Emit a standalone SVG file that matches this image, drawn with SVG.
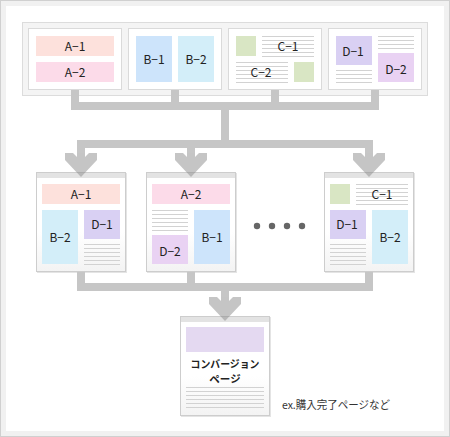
<svg xmlns="http://www.w3.org/2000/svg" width="450" height="437" viewBox="0 0 450 437">
<defs>
<linearGradient id="pg" x1="0" y1="0" x2="0" y2="1">
<stop offset="0" stop-color="#ffffff"/>
<stop offset="0.6" stop-color="#ffffff"/>
<stop offset="1" stop-color="#f3f3f3"/>
</linearGradient>
<style>
.lbl{font-family:"Noto Sans CJK JP","Noto Sans",sans-serif;font-size:12px;fill:#222;text-anchor:middle}
.ln{stroke:#d2d2d2;stroke-width:1;fill:none}
.tcard{fill:#fff;stroke:#dadada;stroke-width:1}
.shadow{fill:#e4e4e4}
.page{fill:url(#pg);stroke:#cdcdcd;stroke-width:1}
.hdr{fill:#e3e3e3}
.bar{fill:#c6c6c6}
.head{fill:#8c8c8c;fill-opacity:0.5}
.cv{font-family:"Noto Sans CJK JP",sans-serif;font-size:10.5px;font-weight:bold;fill:#222;text-anchor:middle}
.cA1{fill:#fde1dc}.cA2{fill:#fcdbe9}.cB1{fill:#cde4fb}.cB2{fill:#d3eef9}
.cC{fill:#d9e6c4}.cD1{fill:#d9d0f3}.cD2{fill:#e9d2f3}.cV{fill:#e4d9f1}
</style>
</defs>
<rect x="0.5" y="0.5" width="449" height="436" fill="#f1f1f1" stroke="#d0d0d0"/>
<rect x="6" y="6" width="438" height="425" fill="#ffffff"/>

<g id="sources">
<rect x="22.5" y="22.5" width="405" height="73" fill="#f4f4f4" stroke="#dcdcdc"/>
</g>

<g id="top-card-A">
<rect class="tcard" x="28.5" y="28.5" width="93" height="61"/>
<rect class="cA1" x="36" y="36" width="78" height="20"/>
<rect class="cA2" x="36" y="62" width="78" height="20"/>
<text class="lbl" x="75" y="50.5">A−1</text>
<text class="lbl" x="75" y="76.5">A−2</text>
</g>

<g id="top-card-B">
<rect class="tcard" x="128.5" y="28.5" width="93" height="61"/>
<rect class="cB1" x="136" y="36" width="36" height="46"/>
<rect class="cB2" x="178" y="36" width="36" height="46"/>
<text class="lbl" x="154" y="63.5">B−1</text>
<text class="lbl" x="196" y="63.5">B−2</text>
</g>

<g id="top-card-C">
<rect class="tcard" x="228.5" y="28.5" width="93" height="61"/>
<rect class="cC" x="236" y="36" width="20" height="20"/>
<rect class="cC" x="294" y="62" width="20" height="20"/>
<path class="ln" d="M262 36.5H314M262 40.5H314M262 44.5H314M262 48.5H314M262 52.5H314M262 56.5H314"/>
<path class="ln" d="M236 62.5H288M236 66.5H288M236 70.5H288M236 74.5H288M236 78.5H288M236 82.5H288"/>
<text class="lbl" x="288" y="50.5">C−1</text>
<text class="lbl" x="261" y="76.5">C−2</text>
</g>

<g id="top-card-D">
<rect class="tcard" x="328.5" y="28.5" width="93" height="61"/>
<rect class="cD1" x="336" y="36" width="36" height="29"/>
<rect class="cD2" x="378" y="53" width="36" height="29"/>
<path class="ln" d="M378 36.5H414M378 40.5H414M378 44.5H414M378 48.5H414"/>
<path class="ln" d="M336 70.5H372M336 74.5H372M336 78.5H372M336 82.5H372"/>
<text class="lbl" x="353" y="55.5">D−1</text>
<text class="lbl" x="396" y="73.5">D−2</text>
</g>

<g id="page-1">
<rect class="shadow" x="37" y="173" width="90" height="100"/>
<rect class="page" x="36.5" y="172.5" width="89" height="99"/>
<rect class="hdr" x="37" y="173" width="88" height="5"/>
<rect class="cA1" x="42" y="184" width="78" height="20"/>
<rect class="cB2" x="42" y="210" width="36" height="54"/>
<rect class="cD1" x="84" y="210" width="36" height="29"/>
<path class="ln" d="M84 244.5H120M84 248.5H120M84 252.5H120M84 256.5H120M84 260.5H120M84 264.5H120"/>
<text class="lbl" x="81" y="198.5">A−1</text>
<text class="lbl" x="60" y="242">B−2</text>
<text class="lbl" x="102" y="229">D−1</text>
</g>

<g id="page-2">
<rect class="shadow" x="147" y="173" width="90" height="100"/>
<rect class="page" x="146.5" y="172.5" width="89" height="99"/>
<rect class="hdr" x="147" y="173" width="88" height="5"/>
<rect class="cA2" x="152" y="184" width="78" height="20"/>
<path class="ln" d="M152 210.5H188M152 214.5H188M152 218.5H188M152 222.5H188M152 226.5H188M152 230.5H188"/>
<rect class="cD2" x="152" y="235" width="36" height="29"/>
<rect class="cB1" x="194" y="210" width="36" height="54"/>
<text class="lbl" x="191" y="198.5">A−2</text>
<text class="lbl" x="170" y="256">D−2</text>
<text class="lbl" x="212" y="241.5">B−1</text>
</g>

<g id="ellipsis" fill="#666">
<circle cx="257" cy="226" r="3.2"/>
<circle cx="272" cy="226" r="3.2"/>
<circle cx="287" cy="226" r="3.2"/>
<circle cx="302" cy="226" r="3.2"/>
</g>

<g id="page-n">
<rect class="shadow" x="325" y="173" width="90" height="100"/>
<rect class="page" x="324.5" y="172.5" width="89" height="99"/>
<rect class="hdr" x="325" y="173" width="88" height="5"/>
<rect class="cC" x="330" y="184" width="20" height="20"/>
<path class="ln" d="M356 184.5H408M356 188.5H408M356 192.5H408M356 196.5H408M356 200.5H408M356 204.5H408"/>
<rect class="cD1" x="330" y="210" width="36" height="29"/>
<path class="ln" d="M330 244.5H366M330 248.5H366M330 252.5H366M330 256.5H366M330 260.5H366M330 264.5H366"/>
<rect class="cB2" x="372" y="210" width="36" height="54"/>
<text class="lbl" x="382" y="198.5">C−1</text>
<text class="lbl" x="347" y="229">D−1</text>
<text class="lbl" x="390" y="242">B−2</text>
</g>

<g id="conversion">
<rect class="shadow" x="181" y="317" width="90" height="100"/>
<rect class="page" x="180.5" y="316.5" width="89" height="99"/>
<rect class="hdr" x="181" y="317" width="88" height="5"/>
<rect class="cV" x="186" y="327" width="78" height="25"/>
<text class="cv" x="225" y="367.5" textLength="69" lengthAdjust="spacingAndGlyphs">コンバージョン</text>
<text class="cv" x="225" y="383">ページ</text>
<path class="ln" d="M186 387.5H264M186 391.5H264M186 395.5H264M186 399.5H264M186 403.5H264M186 407.5H264"/>
</g>

<g id="note">
<text x="282" y="409" textLength="108" lengthAdjust="spacingAndGlyphs" style="font-family:'Noto Sans CJK JP',sans-serif;font-size:11px;fill:#333">ex.購入完了ページなど</text>
</g>

<g id="connectors">
<rect class="bar" x="71" y="90" width="8" height="20"/>
<rect class="bar" x="171" y="90" width="8" height="20"/>
<rect class="bar" x="271" y="90" width="8" height="20"/>
<rect class="bar" x="371" y="90" width="8" height="20"/>
<rect class="bar" x="71" y="102" width="308" height="8"/>
<rect class="bar" x="221" y="110" width="8" height="38"/>
<rect class="bar" x="77" y="140" width="296" height="8"/>
<rect class="bar" x="77" y="148" width="8" height="5"/>
<rect class="bar" x="187" y="148" width="8" height="5"/>
<rect class="bar" x="365" y="148" width="8" height="5"/>
<polygon class="head" points="65,153 73,153 77,157 77,153 85,153 85,157 89,153 97,153 97,160 81,177 65,160"/>
<polygon class="head" points="175,153 183,153 187,157 187,153 195,153 195,157 199,153 207,153 207,160 191,177 175,160"/>
<polygon class="head" points="353,153 361,153 365,157 365,153 373,153 373,157 377,153 385,153 385,160 369,177 353,160"/>
<rect class="bar" x="77" y="272" width="8" height="19"/>
<rect class="bar" x="187" y="272" width="8" height="19"/>
<rect class="bar" x="365" y="272" width="8" height="19"/>
<rect class="bar" x="77" y="283" width="296" height="8"/>
<rect class="bar" x="221" y="291" width="8" height="6"/>
<polygon class="head" points="209,297 217,297 221,301 221,297 229,297 229,301 233,297 241,297 241,304 225,321 209,304"/>
</g>
</svg>
